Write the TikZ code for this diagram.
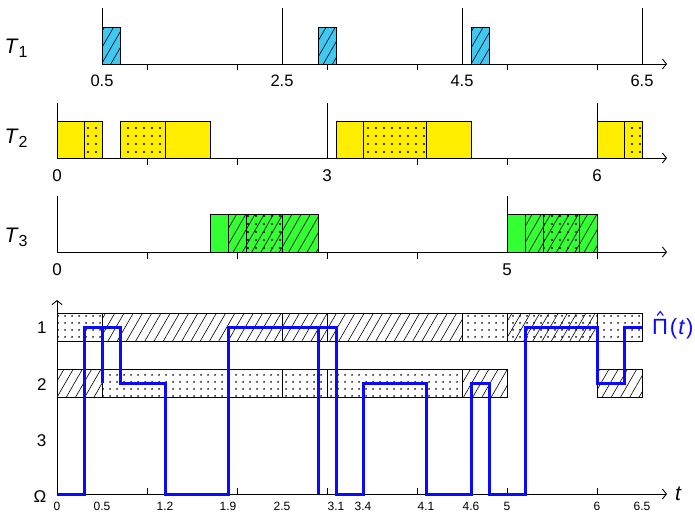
\documentclass[tikz,border=0pt]{standalone}
\usepackage{fontspec}
\setmainfont{Liberation Sans}
\usetikzlibrary{patterns.meta,arrows.meta}
\definecolor{jcyan}{RGB}{64,200,240}
\definecolor{jyellow}{RGB}{255,238,0}
\definecolor{jgreen}{RGB}{51,255,51}
\definecolor{pblue}{RGB}{10,10,255}
\tikzset{
  ax/.style={line width=0.9pt},
  axarr/.style={ax,-{Straight Barb[length=4pt,width=10pt,line width=0.9pt]}},
  jobbox/.style={draw, line width=1pt},
  hatchfill/.style={pattern={Lines[angle=60,distance=8pt,line width=0.6pt]}},
  dotfill/.style={pattern={Dots[distance=8pt,radius=1.1pt]}},
  sdotfill/.style={pattern={Dots[distance=6.5pt,radius=1pt]}},
  lblA/.style={font=\fontsize{16.5}{16.5}\selectfont, anchor=base},
  lblB/.style={font=\fontsize{17}{17}\selectfont, anchor=base},
  lblC/.style={font=\fontsize{12}{12}\selectfont, anchor=base},
  tasklbl/.style={font=\fontsize{21}{21}\selectfont, anchor=base west},
  rowlbl/.style={font=\fontsize{17}{17}\selectfont, anchor=base},
  pline/.style={draw=pblue, line width=3pt},
}
\newcommand{\tsub}[1]{\raisebox{-4pt}{\fontsize{16}{16}\selectfont #1}}
\begin{document}
\begin{tikzpicture}[x=90pt,y=-1pt]
\useasboundingbox (-0.63333,0) rectangle (7.08889,512);
% ---------------- T1 ----------------
\node[tasklbl] (t1lbl) at (-0.6222,53) {\textit{T}\tsub{1}};
\draw[jobbox, preaction={fill=jcyan}, hatchfill] (0.5,27) rectangle (0.7,64);
\draw[jobbox, preaction={fill=jcyan}, hatchfill] (2.9,27) rectangle (3.1,64);
\draw[jobbox, preaction={fill=jcyan}, hatchfill] (4.6,27) rectangle (4.8,64);
\draw[axarr] (0.5,64) -- (6.778,64);
\foreach \x in {0.5,2.5,4.5,6.5} \draw[ax] (\x,8) -- (\x,64);
\foreach \x in {1,...,6} \draw[ax] (\x,64) -- (\x,70);
\foreach \x/\n in {0.5/a,2.5/b,4.5/c,6.5/d} \node[lblA] (t1\n) at (\x,86.5) {\x};
% ---------------- T2 ----------------
\node[tasklbl] (t2lbl) at (-0.6222,143) {\textit{T}\tsub{2}};
\draw[jobbox, fill=jyellow] (0,121) rectangle (0.3,158);
\draw[jobbox, preaction={fill=jyellow}, dotfill] (0.3,121) rectangle (0.5,158);
\draw[jobbox, preaction={fill=jyellow}, dotfill] (0.7,121) rectangle (1.2,158);
\draw[jobbox, fill=jyellow] (1.2,121) rectangle (1.7,158);
\draw[jobbox, fill=jyellow] (3.1,121) rectangle (3.4,158);
\draw[jobbox, preaction={fill=jyellow}, dotfill] (3.4,121) rectangle (4.1,158);
\draw[jobbox, fill=jyellow] (4.1,121) rectangle (4.6,158);
\draw[jobbox, fill=jyellow] (6,121) rectangle (6.3,158);
\draw[jobbox, preaction={fill=jyellow}, dotfill] (6.3,121) rectangle (6.5,158);
\draw[axarr] (0,158) -- (6.778,158);
\foreach \x in {0,3,6} \draw[ax] (\x,103) -- (\x,158);
\foreach \x in {1,2,4,5} \draw[ax] (\x,158) -- (\x,165);
\foreach \x/\n in {0/a,3/b,6/c} \node[lblB] (t2\n) at (\x,181.5) {\x};
% ---------------- T3 ----------------
\node[tasklbl] (t3lbl) at (-0.6222,242) {\textit{T}\tsub{3}};
\draw[jobbox, fill=jgreen] (1.7,214) rectangle (1.9,252);
\draw[jobbox, preaction={fill=jgreen}, hatchfill] (1.9,214) rectangle (2.1,252);
\draw[jobbox, preaction={fill=jgreen}, preaction={hatchfill}, dotfill] (2.1,214) rectangle (2.5,252);
\draw[jobbox, preaction={fill=jgreen}, hatchfill] (2.5,214) rectangle (2.9,252);
\draw[jobbox, fill=jgreen] (5,214) rectangle (5.2,252);
\draw[jobbox, preaction={fill=jgreen}, hatchfill] (5.2,214) rectangle (5.4,252);
\draw[jobbox, preaction={fill=jgreen}, preaction={hatchfill}, dotfill] (5.4,214) rectangle (5.8,252);
\draw[jobbox, preaction={fill=jgreen}, hatchfill] (5.8,214) rectangle (6,252);
\draw[axarr] (0,252) -- (6.778,252);
\foreach \x in {0,5} \draw[ax] (\x,196) -- (\x,252);
\foreach \x in {1,2,3,4,6} \draw[ax] (\x,252) -- (\x,259);
\foreach \x/\n in {0/a,5/b} \node[lblB] (t3\n) at (\x,275) {\x};
% ---------------- Pi-hat ----------------
% row 1
\draw[jobbox, sdotfill] (0,313) rectangle (0.5,341);
\draw[jobbox, hatchfill] (0.5,313) rectangle (2.5,341);
\draw[jobbox, hatchfill] (2.5,313) rectangle (3,341);
\draw[jobbox, hatchfill] (3,313) rectangle (4.5,341);
\draw[jobbox, sdotfill] (4.5,313) rectangle (5,341);
\draw[jobbox, preaction={hatchfill}, sdotfill] (5,313) rectangle (6,341);
\draw[jobbox, sdotfill] (6,313) rectangle (6.5,341);
% row 2
\draw[jobbox, hatchfill] (0,369) rectangle (0.5,397);
\draw[jobbox, sdotfill] (0.5,369) rectangle (2.5,397);
\draw[jobbox, sdotfill] (2.5,369) rectangle (3,397);
\draw[jobbox, sdotfill] (3,369) rectangle (4.5,397);
\draw[jobbox, hatchfill] (4.5,369) rectangle (5,397);
\draw[jobbox, hatchfill] (6,369) rectangle (6.5,397);
% axes
\draw[axarr] (0,494) -- (0,300);
\draw[axarr] (0,494) -- (6.778,494);
\foreach \x in {1,...,6} \draw[ax] (\x,494) -- (\x,488);
\node[rowlbl] (r1) at (-0.167,333) {1};
\node[rowlbl] (r2) at (-0.167,390) {2};
\node[rowlbl] (r3) at (-0.172,446) {3};
\node[rowlbl] (rO) at (-0.189,502) {Ω};
\foreach \x/\n in {0/a,0.5/b,1.2/c,1.9/d,2.5/e,3.1/f,3.4/g,4.1/h,4.6/i,5/j,6/k,6.5/l}
  \node[lblC, inner sep=0pt] (b\n) at (\x,510.5) {\x};
\node[font=\fontsize{21}{21}\selectfont\itshape, anchor=base west] (tlbl) at (6.83,500) {t};
% blue schedule line
\draw[pline] (0,494) -- (0.3,494) -- (0.3,327) -- (0.5,327) -- (0.5,383) -- (0.5,327)
  -- (0.7,327) -- (0.7,383) -- (1.2,383) -- (1.2,494) -- (1.9,494) -- (1.9,327)
  -- (2.9,327) -- (2.9,494) -- (2.9,327) -- (3.1,327) -- (3.1,494) -- (3.4,494)
  -- (3.4,383) -- (4.1,383) -- (4.1,494) -- (4.6,494) -- (4.6,383) -- (4.8,383)
  -- (4.8,494) -- (5.2,494) -- (5.2,327) -- (6,327) -- (6,383) -- (6.3,383)
  -- (6.3,327) -- (6.5,327);
\node[font=\fontsize{22}{22}\selectfont, text=pblue, anchor=base west, inner sep=0pt] (pilbl) at (6.611,334) {Π\kern0.08em(\kern0.05em\textit{t}\kern0.05em)};
\coordinate (hatL) at (6.668,315.5);
\coordinate (hatT) at (6.702,311.5);
\coordinate (hatR) at (6.736,315.5);
\draw[pblue, line width=1.1pt, line join=miter] (hatL) -- (hatT) -- (hatR);
\end{tikzpicture}
\end{document}
